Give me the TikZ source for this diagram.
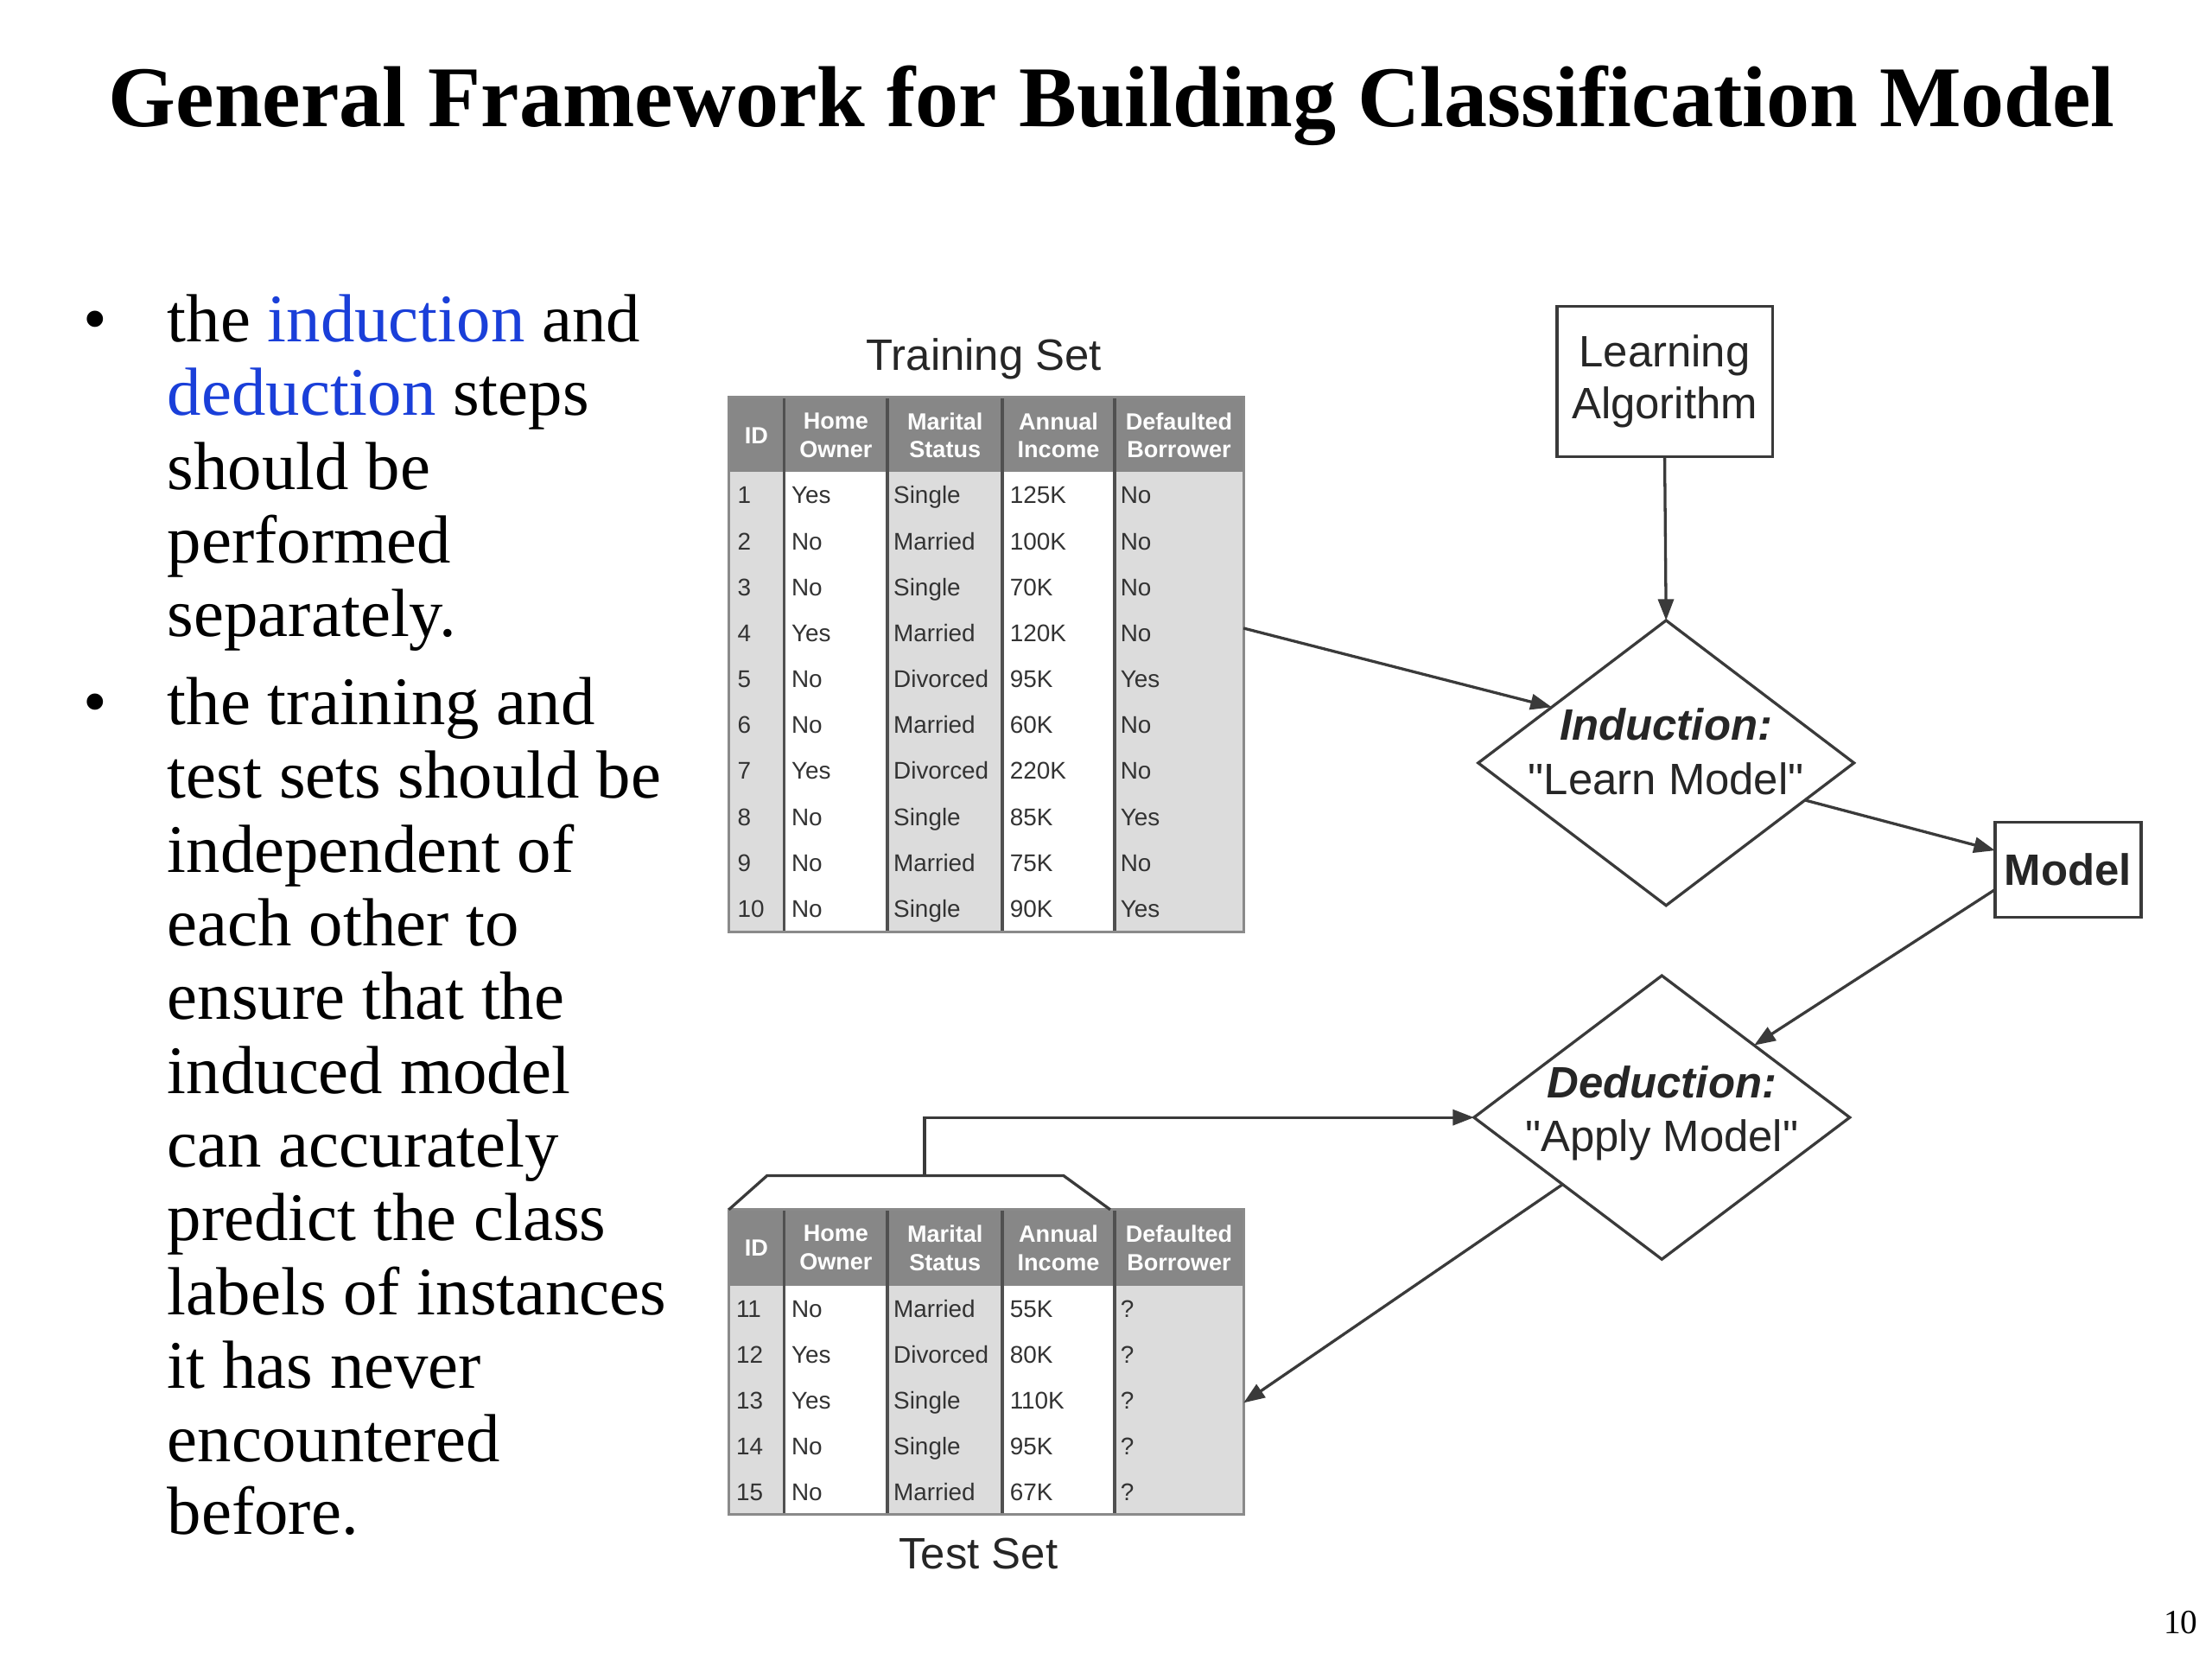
\documentclass[tikz,border=0pt]{standalone}
\usepackage{fontspec}
\setmainfont{Liberation Serif}
\setsansfont{Liberation Sans}
\usetikzlibrary{arrows.meta,shapes.geometric,calc}
\newcommand\strq{\XeTeXglyph\XeTeXcharglyph"0022\relax}
\definecolor{hdr}{HTML}{878787}
\definecolor{lgray}{HTML}{DCDCDC}
\definecolor{sepc}{HTML}{505050}
\definecolor{bord}{HTML}{8A8A8A}
\definecolor{ink}{HTML}{333333}
\definecolor{conn}{HTML}{3A3A3A}
\definecolor{linkblue}{HTML}{1A3FD9}
\tikzset{
  bul/.style={anchor=base west, inner sep=0pt, font=\fontsize{48}{52}\selectfont},
  dotb/.style={anchor=base, inner sep=0pt, font=\fontsize{48}{52}\selectfont},
  lab/.style={inner sep=0pt, font=\fontsize{31}{38}\sffamily\selectfont, text=black!85, align=center},
  boxn/.style={draw=conn, line width=2pt, fill=white, inner sep=0pt, outer sep=0pt, align=center, font=\fontsize{31}{37}\sffamily\selectfont, text=black!85},
  dia/.style={diamond, draw=conn, line width=2pt, fill=white, inner sep=0pt, outer sep=0pt},
  arr/.style={draw=conn, line width=2pt, -{Triangle[length=15pt,width=11pt]}},
  frame/.style={draw=bord, line width=2pt, inner sep=0pt, outer sep=0pt},
  sepline/.style={draw=sepc, line width=2.2pt},
  hd/.style={inner sep=0pt, align=center, text=white, font=\fontsize{16.5}{20}\sffamily\bfseries\selectfont},
  cell/.style={anchor=base west, inner sep=0pt, text=ink, font=\fontsize{17}{20}\sffamily\selectfont},
  tabline/.style={draw=conn, line width=2pt, line join=miter}
}
\begin{document}
\begin{tikzpicture}[x=1pt,y=-1pt]
\useasboundingbox (0,0) rectangle (1560,1170);
\fill[white] (0,0) rectangle (1560,1170);

% Title
\node[anchor=base, inner sep=0pt, font=\fontsize{61}{70}\selectfont\bfseries] (title) at (784,89) {General Framework for Building Classification Model};

% Bullets
\node[dotb] (dot1) at (67,241) {•};
\node[bul] (b1) at (118,241) {the \textcolor{linkblue}{induction} and};
\node[bul] (b2) at (118,293) {\textcolor{linkblue}{deduction} steps};
\node[bul] (b3) at (118,345) {should be};
\node[bul] (b4) at (118,397) {performed};
\node[bul] (b5) at (118,449) {separately.};
\node[dotb] (dot2) at (67,511) {•};
\node[bul] (c1) at (118,511) {the training and};
\node[bul] (c2) at (118,563) {test sets should be};
\node[bul] (c3) at (118,615) {independent of};
\node[bul] (c4) at (118,667) {each other to};
\node[bul] (c5) at (118,719) {ensure that the};
\node[bul] (c6) at (118,771) {induced model};
\node[bul] (c7) at (118,823) {can accurately};
\node[bul] (c8) at (118,875) {predict the class};
\node[bul] (c9) at (118,927) {labels of instances};
\node[bul] (c10) at (118,979) {it has never};
\node[bul] (c11) at (118,1031) {encountered};
\node[bul] (c12) at (118,1082) {before.};

% Page number
\node[anchor=base, inner sep=0pt, font=\fontsize{24}{26}\selectfont] (pnum) at (1538,1152) {10};

% ---------- Training table ----------
\node[lab, anchor=base] (trainlab) at (694,261) {Training Set};
\fill[hdr] (514,280) rectangle (877,333);
\fill[lgray] (514,333) rectangle (553,657);
\fill[lgray] (626,333) rectangle (707,657);
\fill[lgray] (786,333) rectangle (877,657);
\foreach \xx in {553,626,707,786} \draw[sepline] (\xx,280) -- (\xx,657);
\node[hd] (trh1) at (533.5,307) {ID};
\node[hd] (trh2) at (589.5,307) {Home\\Owner};
\node[hd] (trh3) at (666.5,307) {Marital\\Status};
\node[hd] (trh4) at (746.5,307) {Annual\\Income};
\node[hd] (trh5) at (831.5,307) {Defaulted\\Borrower};
\foreach \ida/\hoa/\msa/\aia/\dba [count=\rowi] in {1/Yes/Single/125K/No, 2/No/Married/100K/No, 3/No/Single/70K/No, 4/Yes/Married/120K/No, 5/No/Divorced/95K/Yes, 6/No/Married/60K/No, 7/Yes/Divorced/220K/No, 8/No/Single/85K/Yes, 9/No/Married/75K/No, 10/No/Single/90K/Yes}{
  \pgfmathsetmacro\yy{333+32.4*(\rowi-0.5)+6}
  \node[cell] (tr-\rowi-a) at (520,\yy) {\ida};
  \node[cell] (tr-\rowi-b) at (558,\yy) {\hoa};
  \node[cell] (tr-\rowi-c) at (630,\yy) {\msa};
  \node[cell] (tr-\rowi-d) at (712,\yy) {\aia};
  \node[cell] (tr-\rowi-e) at (790,\yy) {\dba};
}
\node[frame, minimum width=363pt, minimum height=377pt] (train) at (695.5,468.5) {};

% ---------- Test table ----------
\fill[hdr] (514,853) rectangle (877,907);
\fill[lgray] (514,907) rectangle (553,1068);
\fill[lgray] (626,907) rectangle (707,1068);
\fill[lgray] (786,907) rectangle (877,1068);
\foreach \xx in {553,626,707,786} \draw[sepline] (\xx,853) -- (\xx,1068);
\node[hd] (teh1) at (533.5,880) {ID};
\node[hd] (teh2) at (589.5,880) {Home\\Owner};
\node[hd] (teh3) at (666.5,880) {Marital\\Status};
\node[hd] (teh4) at (746.5,880) {Annual\\Income};
\node[hd] (teh5) at (831.5,880) {Defaulted\\Borrower};
\foreach \ida/\hoa/\msa/\aia/\dba [count=\rowi] in {11/No/Married/55K/?, 12/Yes/Divorced/80K/?, 13/Yes/Single/110K/?, 14/No/Single/95K/?, 15/No/Married/67K/?}{
  \pgfmathsetmacro\yy{907+32.2*(\rowi-0.5)+6}
  \node[cell] (te-\rowi-a) at (519,\yy) {\ida};
  \node[cell] (te-\rowi-b) at (558,\yy) {\hoa};
  \node[cell] (te-\rowi-c) at (630,\yy) {\msa};
  \node[cell] (te-\rowi-d) at (712,\yy) {\aia};
  \node[cell] (te-\rowi-e) at (790,\yy) {\dba};
}
\node[frame, minimum width=363pt, minimum height=215pt] (test) at (695.5,960.5) {};
\draw[tabline] (514,853) -- (541,829) -- (750,829) -- (783,853);
\coordinate (tabtop) at (652,829);
\node[lab, anchor=base] (testlab) at (690,1106) {Test Set};

% ---------- Flow ----------
\node[boxn, minimum width=152pt, minimum height=106pt] (la) at (1174,269) {Learning\\Algorithm};
\node[dia, minimum width=265pt, minimum height=201pt] (ind) at (1175,538) {};
\node[lab] (indtxt) at (1175,530) {\textbf{\textit{Induction:}}\\\strq Learn Model\strq};
\node[boxn, minimum width=103pt, minimum height=67pt, font=\fontsize{31}{37}\sffamily\bfseries\selectfont] (model) at (1458.5,613.5) {Model};
\node[dia, minimum width=265pt, minimum height=200pt] (ded) at (1172,788) {};
\node[lab] (dedtxt) at (1172,785) {\textbf{\textit{Deduction:}}\\\strq Apply Model\strq};

\draw[arr] (la.south) -- (ind.north);
\draw[arr] (train.8.9) -- (ind.154);
\draw[arr] (ind.-15) -- (model.165.3);
\draw[arr] (model.195.7) -- (ded.38);
\draw[arr] (ded.214) -- (test.-9.85);
\draw[arr] (tabtop) |- (ded.west);
\end{tikzpicture}
\end{document}
